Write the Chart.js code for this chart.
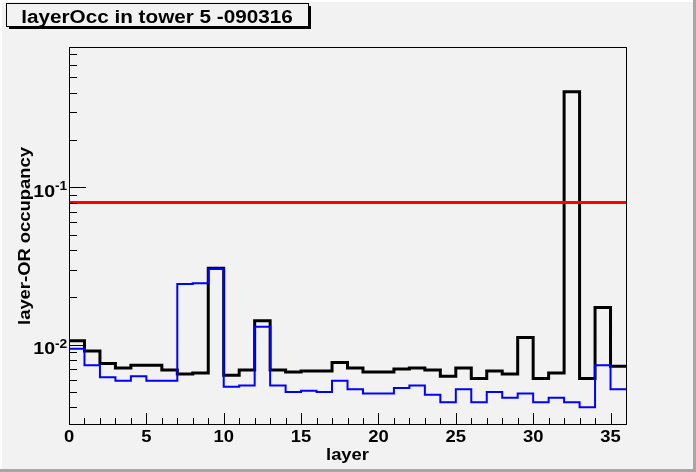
<!DOCTYPE html>
<html lang="en">
<head>
    <meta charset="UTF-8">
    <title>layerOcc in tower 5 -090316</title>
    <script src="https://cdn.jsdelivr.net/npm/chart.js"></script>
    <style>
        html, body { margin: 0; padding: 0; background: #f2f2f2; }
        canvas { display: block; }
    </style>
</head>
<body>
    <canvas id="occChart" width="696" height="472"></canvas>
    <script>
        // layer index (bin low edges) and occupancies
        const layers = [0, 1, 2, 3, 4, 5, 6, 7, 8, 9, 10, 11, 12, 13, 14, 15, 16, 17,
                        18, 19, 20, 21, 22, 23, 24, 25, 26, 27, 28, 29, 30, 31, 32, 33, 34, 35];
        const blackOcc = [0.0106, 0.0091, 0.0076, 0.0071, 0.0074, 0.0074, 0.0069, 0.0065, 0.0066,
                          0.0306, 0.0064, 0.0069, 0.0142, 0.0069, 0.0067, 0.0068, 0.0068, 0.0077,
                          0.0071, 0.0067, 0.0067, 0.0070, 0.0071, 0.0069, 0.0063, 0.0071, 0.0061,
                          0.0068, 0.0065, 0.0111, 0.0061, 0.0066, 0.405, 0.0061, 0.0172, 0.0073];
        const blueOcc = [0.0094, 0.0074, 0.0062, 0.0059, 0.0063, 0.0059, 0.0059, 0.0243, 0.0246,
                         0.0303, 0.0054, 0.0055, 0.0130, 0.0055, 0.0050, 0.0051, 0.0050, 0.0059,
                         0.0052, 0.0049, 0.0049, 0.0053, 0.0055, 0.0048, 0.0043, 0.0052, 0.0043,
                         0.0050, 0.0046, 0.0049, 0.0043, 0.0046, 0.0043, 0.0040, 0.0074, 0.0052];
        const threshold = 0.08;
        const xMin = 0, xMax = 36;
        const yMin = 0.00313, yMax = 0.78;
        const xTickLabels = [0, 5, 10, 15, 20, 25, 30, 35];
        const yDecadeExponents = [-2, -1];

        const FONT = '"Liberation Sans", Arial, Helvetica, sans-serif';
        const STRETCH = 1.15; // ROOT's bold helvetica renders wider than Liberation

        // step outline: one point per bin edge, last bin closed at the upper edge
        function toSteps(values) {
            const pts = layers.map((x, i) => ({ x: x, y: values[i] }));
            pts.push({ x: layers[layers.length - 1] + 1, y: values[values.length - 1] });
            return pts;
        }

        function text(ctx, str, x, y, align, size, rot) {
            ctx.save();
            ctx.font = 'bold ' + size + 'px ' + FONT;
            ctx.textAlign = align;
            ctx.textBaseline = 'alphabetic';
            ctx.translate(x, y);
            if (rot) ctx.rotate(rot);
            ctx.scale(STRETCH, 1);
            ctx.fillText(str, 0, 0);
            ctx.restore();
        }

        const rootFrame = {
            id: 'rootFrame',
            beforeDraw(chart) {
                const ctx = chart.ctx;
                const W = chart.width, H = chart.height;
                ctx.save();
                ctx.fillStyle = '#f2f2f2';
                ctx.fillRect(0, 0, W, H);
                // raised canvas border
                ctx.fillStyle = '#ffffff';
                ctx.fillRect(0, 0, W, 2);
                ctx.fillRect(0, 0, 2, H);
                ctx.fillStyle = '#a6a6a6';
                ctx.fillRect(0, H - 3, W, 3);
                ctx.fillRect(W - 3, 0, 3, H);
                ctx.restore();
            },
            afterDraw(chart) {
                const ctx = chart.ctx;
                const area = chart.chartArea;
                const xs = chart.scales.x, ys = chart.scales.y;
                ctx.save();

                // frame
                ctx.strokeStyle = '#000';
                ctx.lineWidth = 1;
                ctx.strokeRect(Math.round(area.left) + 0.5, Math.round(area.top) + 0.5,
                               Math.round(area.right - area.left), Math.round(area.bottom - area.top));

                // x ticks (inside, bottom)
                ctx.beginPath();
                for (let v = xMin; v <= xMax; v++) {
                    const px = Math.round(xs.getPixelForValue(v)) + 0.5;
                    const len = (v % 5 === 0) ? 11 : 6;
                    ctx.moveTo(px, area.bottom);
                    ctx.lineTo(px, area.bottom - len);
                }
                // y ticks (inside, left), log decades
                for (let e = -3; e <= 0; e++) {
                    for (let n = 1; n <= 9; n++) {
                        const val = n * Math.pow(10, e);
                        if (val < yMin || val > yMax) continue;
                        const py = Math.round(ys.getPixelForValue(val)) + 0.5;
                        const len = (n === 1) ? 17 : 8;
                        ctx.moveTo(area.left, py);
                        ctx.lineTo(area.left + len, py);
                    }
                }
                ctx.stroke();

                ctx.fillStyle = '#000';
                // x tick labels
                xTickLabels.forEach(v => {
                    text(ctx, String(v), xs.getPixelForValue(v), area.bottom + 18, 'center', 16);
                });

                // y decade labels 10^e
                yDecadeExponents.forEach(e => {
                    const py = ys.getPixelForValue(Math.pow(10, e));
                    text(ctx, '10', 55, py + 9.5, 'right', 17);
                    text(ctx, String(e), 55, py + 3, 'left', 12);
                });

                // axis titles
                text(ctx, 'layer', (area.left + area.right) / 2, 460, 'center', 16);
                text(ctx, 'layer-OR occupancy', 30, 236, 'center', 16, -Math.PI / 2);

                // title box with shadow
                ctx.fillStyle = '#000';
                ctx.fillRect(9, 26, 302, 3);
                ctx.fillRect(308, 6, 3, 23);
                ctx.fillStyle = '#f2f2f2';
                ctx.fillRect(7, 4, 301, 22);
                ctx.strokeStyle = '#000';
                ctx.lineWidth = 1;
                ctx.strokeRect(6.5, 3.5, 302, 23);
                ctx.fillStyle = '#000';
                text(ctx, 'layerOcc in tower 5 -090316', 157, 22.5, 'center', 18);

                ctx.restore();
            }
        };

        new Chart(document.getElementById('occChart'), {
            type: 'line',
            data: {
                datasets: [
                    {
                        label: 'threshold',
                        data: [{ x: xMin, y: threshold }, { x: xMax, y: threshold }],
                        borderColor: '#ff0000',
                        borderWidth: 3,
                        pointRadius: 0,
                        order: 0
                    },
                    {
                        label: 'blue',
                        data: toSteps(blueOcc),
                        stepped: 'before',
                        borderColor: '#0000ff',
                        borderWidth: 2,
                        pointRadius: 0,
                        order: 1
                    },
                    {
                        label: 'black',
                        data: toSteps(blackOcc),
                        stepped: 'before',
                        borderColor: '#000000',
                        borderWidth: 3,
                        pointRadius: 0,
                        order: 2
                    }
                ]
            },
            options: {
                animation: false,
                responsive: false,
                devicePixelRatio: 1,
                layout: { padding: { left: 69, right: 70, top: 47, bottom: 48 } },
                scales: {
                    x: { type: 'linear', min: xMin, max: xMax, display: false },
                    y: { type: 'logarithmic', min: yMin, max: yMax, display: false }
                },
                plugins: {
                    legend: { display: false },
                    tooltip: { enabled: false }
                }
            },
            plugins: [rootFrame]
        });
    </script>
</body>
</html>
